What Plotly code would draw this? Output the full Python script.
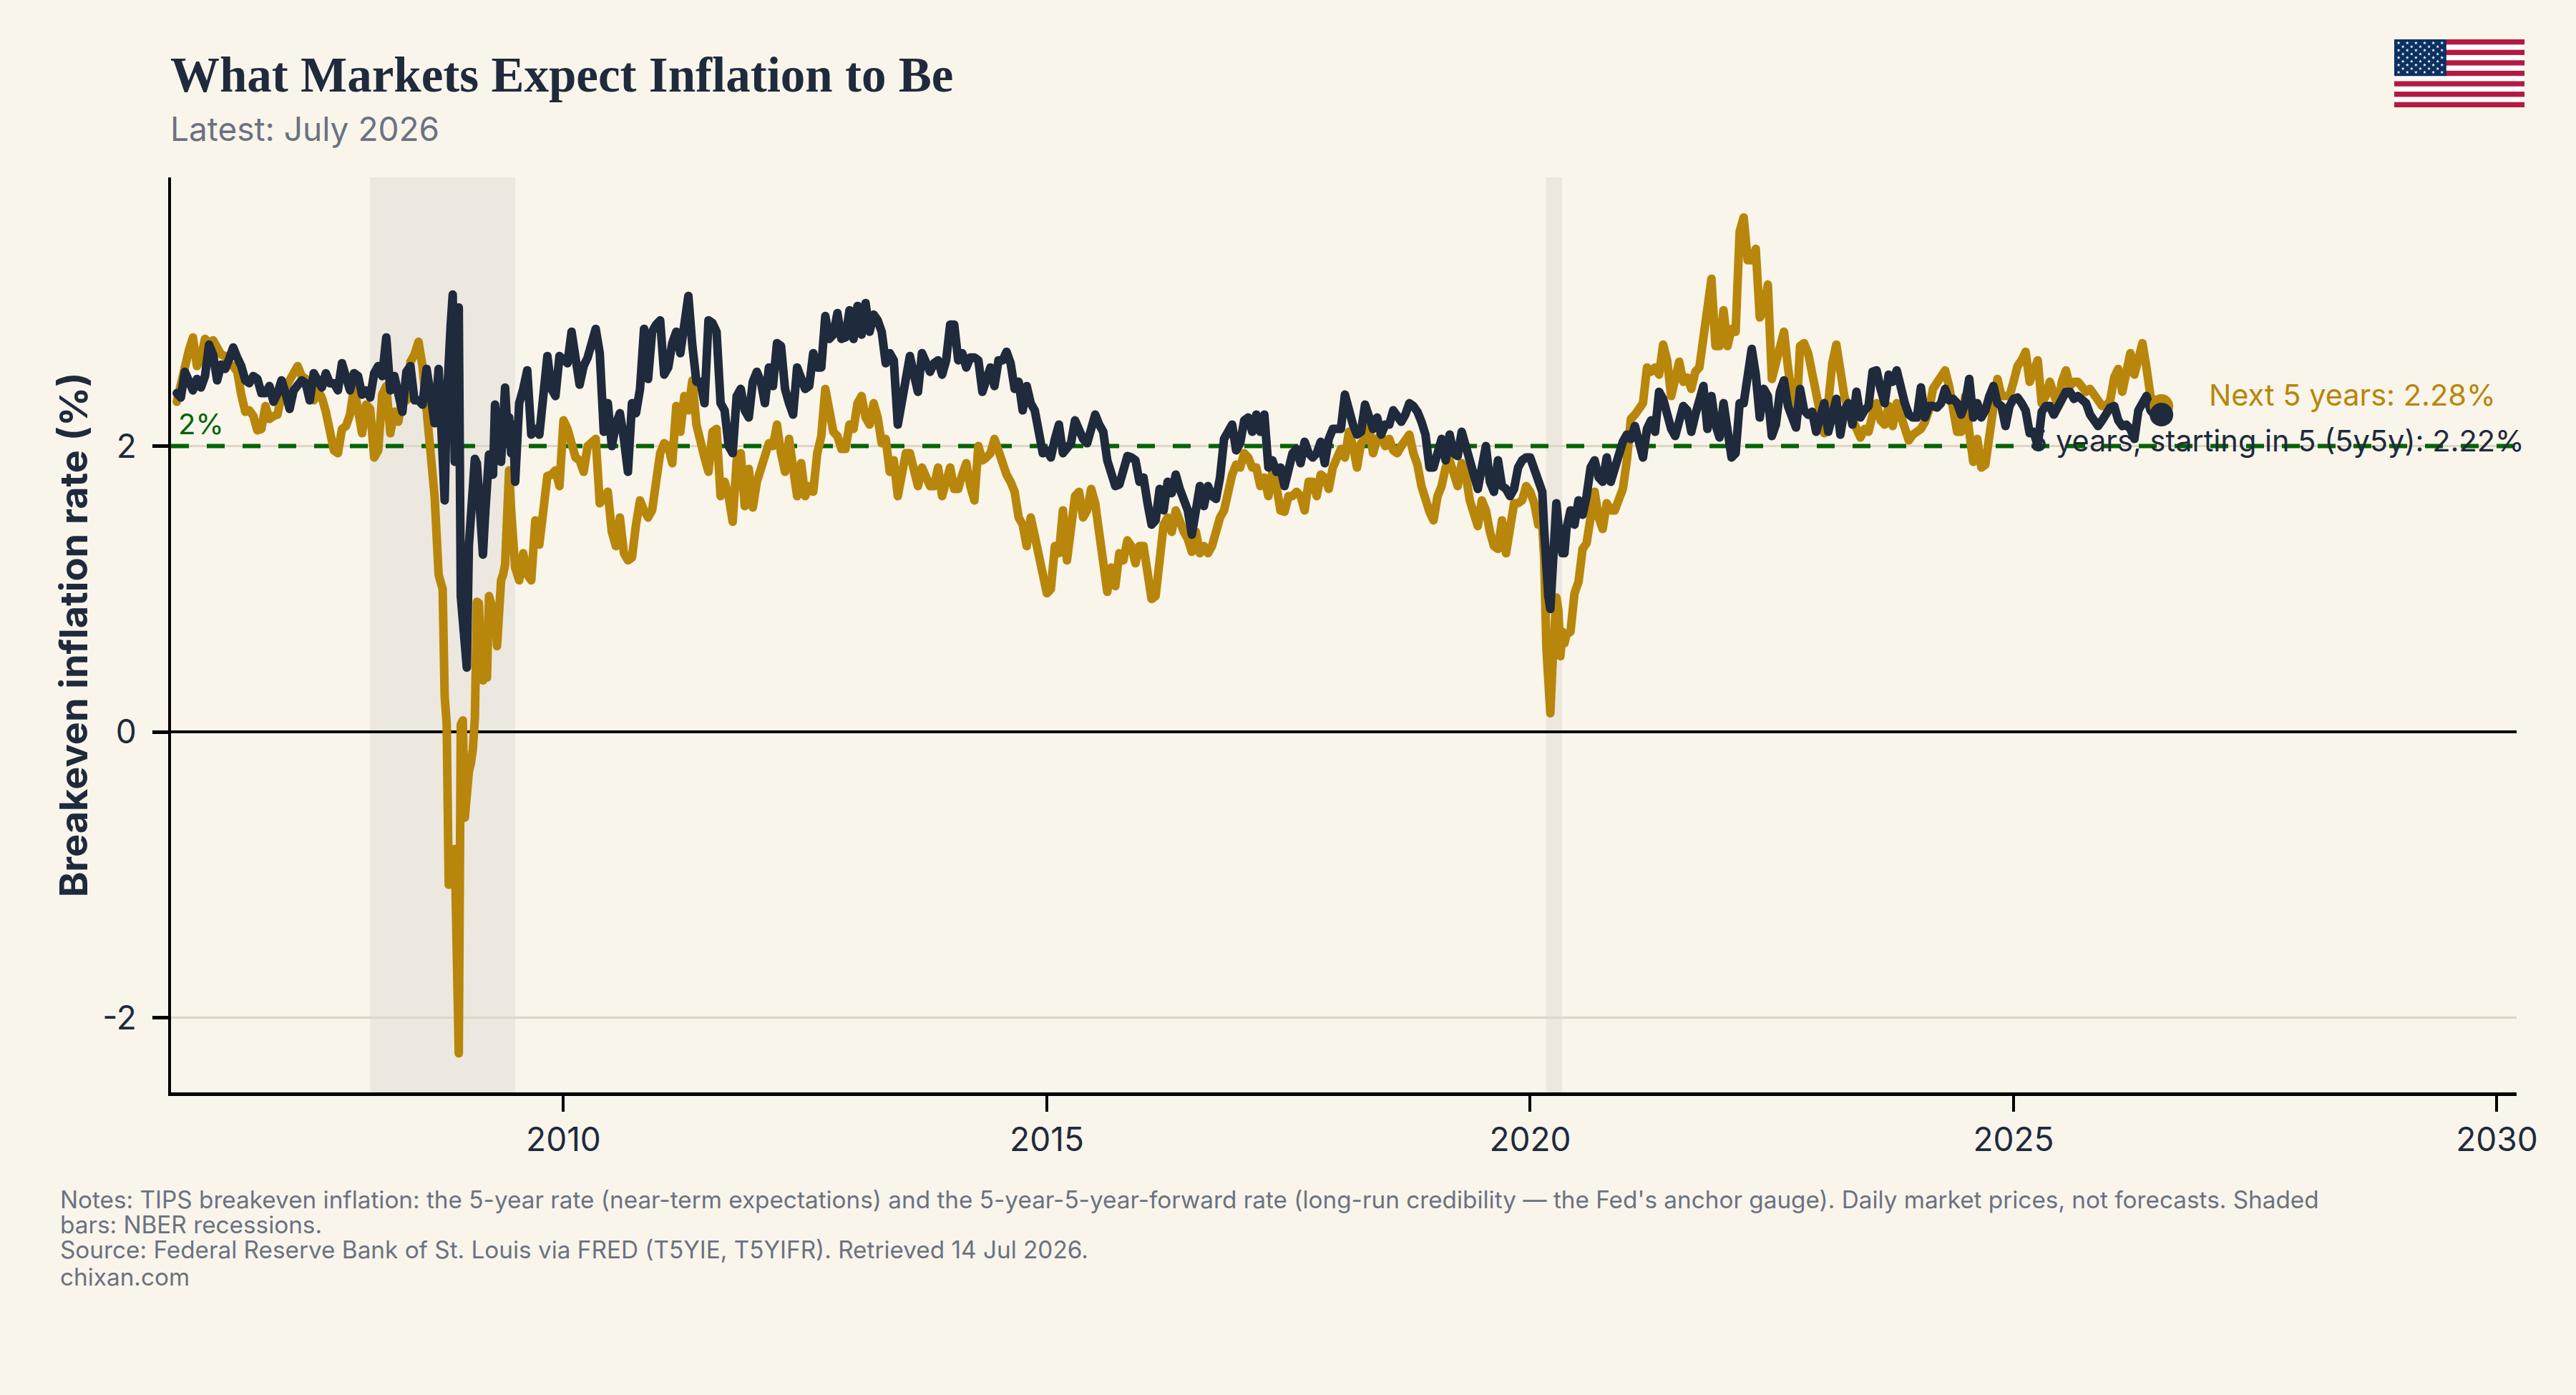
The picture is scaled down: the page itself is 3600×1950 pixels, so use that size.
import base64
import plotly.graph_objects as go

# Breakeven inflation, semi-monthly readings per year (percent).
# 5-year breakeven (T5YIE)
five_2006 = [2.31,2.44,2.59,2.67,2.76,2.56,2.62,2.75,2.72,2.74,2.69,2.64,2.63,2.57,2.56,2.52,2.36,2.24,2.25,2.21,2.11,2.12,2.28,2.19]
five_2007 = [2.21,2.22,2.36,2.41,2.46,2.54,2.56,2.49,2.47,2.34,2.32,2.39,2.34,2.24,2.07,1.97,1.95,2.12,2.14,2.22,2.41,2.27,2.09,2.29]
five_2008 = [2.26,1.92,1.97,2.36,2.42,2.09,2.24,2.17,2.36,2.32,2.59,2.64,2.73,2.56,2.26,2.01,1.65,1.10]
five_crisis = [1.00,0.25,0.06,-1.07,-1.05,-1.05,-0.82,-1.8,-2.25,0.05,0.08,-0.6,-0.35,-0.28,-0.22,-0.12,0.10,0.91,0.90,0.55,0.36,0.50,0.38,0.95,0.90,0.75,0.87,0.60,1.00,1.06,1.10,1.17,1.50,1.83,1.55,1.20]
five_2009 = [1.15,1.06,1.25,1.10,1.06,1.48,1.31,1.55,1.79,1.80,1.83,1.72]
five_2010 = [2.18,2.12,2.00,1.92,1.90,1.82,2.00,2.03,2.05,1.60,1.65,1.68,1.40,1.30,1.50,1.25,1.20,1.22,1.45,1.62,1.55,1.50,1.55,1.72]
five_2011 = [1.95,2.02,2.00,1.88,2.28,2.10,2.35,2.25,2.46,2.15,2.00,1.92,1.82,2.10,2.12,1.65,1.75,1.65,1.47,1.90,1.95,1.58,1.84,1.57]
five_2012 = [1.75,1.85,1.95,2.02,2.00,2.15,1.95,1.82,2.05,1.85,1.65,1.88,1.65,1.72,1.68,1.95,2.07,2.40,2.28,2.10,2.07,1.98,1.98,2.15]
five_2013 = [2.12,2.30,2.35,2.20,2.15,2.30,2.20,2.02,2.05,1.82,1.90,1.65,1.80,1.95,1.95,1.85,1.72,1.85,1.78,1.72,1.72,1.85,1.65,1.75]
five_2014 = [1.85,1.70,1.70,1.80,1.88,1.72,1.62,2.00,1.90,1.92,1.95,2.05,1.95,1.90,1.80,1.75,1.68,1.50,1.45,1.30,1.50,1.37,1.25,1.10]
five_2015 = [0.97,1.00,1.30,1.25,1.55,1.20,1.50,1.65,1.68,1.50,1.55,1.70,1.60,1.42,1.15,0.98,1.15,1.02,1.25,1.20,1.34,1.30,1.18,1.30]
five_2016 = [1.30,1.10,0.93,0.95,1.25,1.45,1.50,1.40,1.55,1.45,1.40,1.35,1.26,1.40,1.25,1.30,1.25,1.30,1.42,1.50,1.55,1.70,1.80,1.87]
five_2017 = [1.85,1.95,1.92,1.85,1.85,1.72,1.78,1.65,1.82,1.72,1.55,1.54,1.65,1.65,1.68,1.65,1.55,1.75,1.75,1.65,1.80,1.78,1.70,1.85]
five_2018 = [1.90,1.98,1.92,2.10,2.00,1.85,2.02,2.05,2.13,1.95,2.05,2.08,2.00,2.05,1.97,1.95,2.00,2.03,2.08,1.95,1.87,1.72,1.62,1.54]
five_2019 = [1.48,1.65,1.72,1.85,1.90,1.80,1.72,1.88,1.80,1.62,1.50,1.44,1.62,1.55,1.40,1.30,1.28,1.48,1.25,1.45,1.60,1.60,1.62,1.72]
five_2020_start = [1.68,1.60,1.45]
five_covid = [1.45,1.20,0.60,0.30,0.13,0.45,0.62,0.94,0.85,0.53,0.70,0.62]
five_2020_end = [0.68,0.70,0.97,1.05,1.28,1.32,1.50,1.68,1.50,1.42,1.60,1.55,1.55,1.65,1.70]
five_2021 = [1.90,2.19,2.22,2.26,2.30,2.55,2.52,2.55,2.50,2.71,2.60,2.35,2.45,2.59,2.45,2.48,2.40,2.52,2.55,2.80,3.00,3.17,2.70,2.70]
five_2022 = [2.95,2.70,2.82,2.80,3.50,3.60,3.30,3.30,3.38,2.90,2.95,3.13,2.47,2.60,2.73,2.80,2.55,2.30,2.15,2.70,2.72,2.65,2.50,2.35]
five_2023 = [2.25,2.09,2.30,2.58,2.71,2.50,2.35,2.25,2.18,2.10,2.06,2.12,2.10,2.22,2.30,2.18,2.15,2.28,2.14,2.30,2.20,2.15,2.04,2.08]
five_2024 = [2.10,2.12,2.17,2.25,2.40,2.45,2.50,2.53,2.42,2.25,2.10,2.10,2.35,2.10,1.89,2.05,1.85,1.87,2.10,2.25,2.47,2.35,2.35,2.35]
five_2025 = [2.45,2.56,2.60,2.66,2.45,2.55,2.60,2.30,2.35,2.45,2.35,2.28,2.45,2.53,2.42,2.45,2.45,2.40,2.38,2.40,2.35,2.30,2.28,2.28]
five_2026 = [2.32,2.48,2.54,2.38,2.55,2.65,2.50,2.60,2.72,2.55,2.35,2.30,2.30,2.28]

# 5-year, 5-year-forward rate (T5YIFR)
fwd_2006 = [2.37,2.34,2.52,2.44,2.39,2.47,2.41,2.49,2.71,2.64,2.46,2.57,2.54,2.61,2.69,2.62,2.56,2.46,2.44,2.49,2.47,2.37,2.37,2.42]
fwd_2007 = [2.31,2.37,2.46,2.37,2.26,2.39,2.44,2.46,2.44,2.32,2.51,2.44,2.41,2.51,2.44,2.44,2.39,2.58,2.46,2.39,2.51,2.49,2.36,2.39]
fwd_2008 = [2.34,2.51,2.56,2.49,2.76,2.39,2.49,2.36,2.24,2.52,2.56,2.32,2.32,2.29,2.54,2.36,2.16,2.54]
fwd_crisis = [1.85,1.62,2.30,2.76,2.85,3.06,1.89,2.50,2.97,0.95,0.75,0.46,0.45,1.30,1.50,1.90,1.91,1.88,1.60,1.28,1.24,1.50,1.85,1.94,1.80,1.80,2.29,1.95,1.90,1.89,2.25,2.41,2.15,2.20,1.95,2.15]
fwd_2009 = [1.75,2.30,2.40,2.53,2.08,2.12,2.08,2.45,2.63,2.40,2.35,2.63]
fwd_2010 = [2.60,2.58,2.80,2.55,2.43,2.56,2.62,2.72,2.82,2.65,2.10,2.30,2.00,2.15,2.23,2.05,1.82,2.30,2.23,2.40,2.82,2.47,2.80,2.85]
fwd_2011 = [2.88,2.50,2.55,2.72,2.80,2.65,2.85,3.05,2.70,2.45,2.45,2.30,2.88,2.86,2.80,2.30,2.25,2.00,1.95,2.35,2.40,2.25,2.20,2.45]
fwd_2012 = [2.52,2.45,2.30,2.55,2.42,2.72,2.70,2.40,2.30,2.22,2.55,2.45,2.40,2.42,2.65,2.55,2.55,2.91,2.75,2.78,2.93,2.75,2.76,2.95]
fwd_2013 = [2.75,2.98,2.78,3.00,2.80,2.92,2.88,2.80,2.58,2.65,2.60,2.15,2.30,2.50,2.63,2.50,2.38,2.65,2.60,2.52,2.58,2.60,2.50,2.60]
fwd_2014 = [2.85,2.85,2.60,2.65,2.55,2.62,2.62,2.60,2.38,2.45,2.55,2.42,2.60,2.60,2.66,2.58,2.40,2.45,2.25,2.42,2.30,2.25,2.12,1.95]
fwd_2015 = [1.97,1.92,2.05,2.15,1.95,1.98,2.02,2.18,2.10,2.05,2.02,2.15,2.22,2.15,2.10,1.90,1.80,1.72,1.73,1.85,1.93,1.92,1.90,1.75]
fwd_2016 = [1.78,1.60,1.45,1.48,1.70,1.55,1.75,1.67,1.80,1.70,1.60,1.55,1.38,1.55,1.72,1.58,1.72,1.65,1.63,1.78,2.05,2.10,2.15,1.97]
fwd_2017 = [2.02,2.18,2.20,2.10,2.22,2.10,2.22,1.85,1.90,1.82,1.85,1.72,1.82,1.95,1.98,1.88,2.03,1.95,1.92,1.95,2.03,1.88,2.05,2.12]
fwd_2018 = [2.12,2.12,2.36,2.22,2.15,2.08,2.10,2.29,2.20,2.12,2.20,2.08,2.15,2.15,2.25,2.22,2.17,2.22,2.30,2.28,2.24,2.17,2.08,1.85]
fwd_2019 = [1.85,1.95,2.05,1.90,2.08,1.95,1.93,2.10,2.00,1.85,1.75,1.70,1.85,2.00,1.75,1.68,1.90,1.72,1.70,1.65,1.70,1.85,1.90,1.92]
fwd_2020_start = [1.92,1.85,1.78]
fwd_covid = [1.68,1.40,1.10,0.95,0.86,1.10,1.30,1.60,1.45,1.30,1.25,1.25]
fwd_2020_end = [1.42,1.55,1.45,1.62,1.52,1.65,1.85,1.90,1.78,1.75,1.92,1.75,1.85,1.90,2.03]
fwd_2021 = [2.08,2.05,2.14,2.00,1.92,2.12,2.18,2.10,2.38,2.33,2.22,2.12,2.07,2.20,2.28,2.25,2.10,2.22,2.35,2.42,2.12,2.35,2.15,2.06]
fwd_2022 = [2.30,2.05,1.92,1.95,2.30,2.30,2.45,2.68,2.50,2.20,2.40,2.35,2.07,2.15,2.38,2.46,2.28,2.20,2.13,2.40,2.25,2.22,2.24,2.10]
fwd_2023 = [2.18,2.30,2.10,2.20,2.33,2.08,2.25,2.30,2.15,2.38,2.20,2.25,2.28,2.52,2.53,2.40,2.30,2.50,2.45,2.53,2.38,2.30,2.22,2.20]
fwd_2024 = [2.20,2.41,2.20,2.28,2.28,2.27,2.30,2.40,2.32,2.33,2.30,2.22,2.30,2.47,2.20,2.30,2.20,2.25,2.35,2.42,2.30,2.28,2.14,2.28]
fwd_2025 = [2.33,2.34,2.30,2.25,2.09,2.10,2.00,2.24,2.28,2.28,2.22,2.28,2.33,2.38,2.38,2.33,2.35,2.33,2.30,2.22,2.17,2.14,2.18,2.22]
fwd_2026 = [2.27,2.28,2.18,2.14,2.15,2.12,2.05,2.25,2.30,2.35,2.25,2.22,2.22,2.22]

SEMI = 1 / 24
FINE = 1 / 48
# (first date, spacing) for each stretch; the crises are kept at finer spacing.
SPANS = [(2006.0, SEMI), (2007.0, SEMI), (2008.0, SEMI), (2008.75, FINE), (2009.5, SEMI)]
SPANS += [(float(y), SEMI) for y in range(2010, 2020)]
SPANS += [(2020.0, SEMI), (2020.125, FINE), (2020.375, SEMI)]
SPANS += [(float(y), SEMI) for y in range(2021, 2027)]

FIVE_PARTS = [five_2006, five_2007, five_2008, five_crisis, five_2009, five_2010, five_2011, five_2012,
              five_2013, five_2014, five_2015, five_2016, five_2017, five_2018, five_2019,
              five_2020_start, five_covid, five_2020_end, five_2021, five_2022, five_2023, five_2024,
              five_2025, five_2026]
FWD_PARTS = [fwd_2006, fwd_2007, fwd_2008, fwd_crisis, fwd_2009, fwd_2010, fwd_2011, fwd_2012,
             fwd_2013, fwd_2014, fwd_2015, fwd_2016, fwd_2017, fwd_2018, fwd_2019,
             fwd_2020_start, fwd_covid, fwd_2020_end, fwd_2021, fwd_2022, fwd_2023, fwd_2024,
             fwd_2025, fwd_2026]


def stitch(parts):
    xs, ys = [], []
    for (start, step), values in zip(SPANS, parts):
        xs += [start + i * step for i in range(len(values))]
        ys += values
    # the last reading is dated mid-July
    xs[-1] = LATEST_DATE
    return xs, ys


LATEST_DATE = 2026.53
LATEST_FIVE = 2.28
LATEST_FWD = 2.22
TARGET = 2.0
RECESSIONS = [(2008.0, 2009.5), (2020.165, 2020.33)]
YEAR_TICKS = [2010, 2015, 2020, 2025, 2030]
VALUE_TICKS = [-2, 0, 2]
X_RANGE = [2005.94, 2030.204]
Y_RANGE = [-2.523, 3.88]

NOTE_LINES = [
    "Notes: TIPS breakeven inflation: the 5-year rate (near-term expectations) and the 5-year-5-year-forward rate (long-run credibility — the Fed's anchor gauge). Daily market prices, not forecasts. Shaded",
    "bars: NBER recessions.",
    "Source: Federal Reserve Bank of St. Louis via FRED (T5YIE, T5YIFR). Retrieved 14 Jul 2026.",
    "chixan.com",
]

BG = "#f9f5eb"
INK = "#1f2a3c"
GOLD = "#b8860b"
GREEN = "#006400"
MUTED = "#6b7280"
GRID = "#ddd6c6"
SANS = "Inter"

WIDTH, HEIGHT = 3600, 1950
LEFT, RIGHT, TOP, BOTTOM = 239, 3517, 248, 1527


def fx(px):
    return (px - LEFT) / (RIGHT - LEFT)


def fy(py):
    return (BOTTOM - py) / (BOTTOM - TOP)


def flag_svg():
    w, h = 1900, 1000
    stripe = h / 13
    parts = [f'<svg xmlns="http://www.w3.org/2000/svg" width="{w}" height="{h}" viewBox="0 0 {w} {h}" preserveAspectRatio="none">',
             f'<rect width="{w}" height="{h}" fill="#ffffff"/>']
    for i in range(0, 13, 2):
        parts.append(f'<rect y="{i * stripe:.2f}" width="{w}" height="{stripe:.2f}" fill="#b31942"/>')
    cw, ch = 0.4 * w, 7 * stripe
    parts.append(f'<rect width="{cw:.2f}" height="{ch:.2f}" fill="#0a3161"/>')
    dx, dy = cw / 12, ch / 10
    star = "M0,-27 L6.3,-8.3 L25.7,-8.3 L10,3.2 L15.9,21.8 L0,10.3 L-15.9,21.8 L-10,3.2 L-25.7,-8.3 L-6.3,-8.3 Z"
    for row in range(9):
        cols = range(1, 12, 2) if row % 2 == 0 else range(2, 11, 2)
        for col in cols:
            parts.append(f'<path transform="translate({col * dx:.1f},{(row + 1) * dy:.1f})" d="{star}" fill="#ffffff"/>')
    parts.append("</svg>")
    return "data:image/svg+xml;base64," + base64.b64encode("".join(parts).encode()).decode()


five_x, five_y = stitch(FIVE_PARTS)
fwd_x, fwd_y = stitch(FWD_PARTS)

fig = go.Figure()
fig.add_trace(go.Scatter(x=X_RANGE, y=[TARGET, TARGET], mode="lines", hoverinfo="skip",
                         line=dict(color=GREEN, width=6, dash="25px,25px")))
fig.add_trace(go.Scatter(x=five_x, y=five_y, mode="lines", name="Next 5 years",
                         line=dict(color=GOLD, width=12)))
fig.add_trace(go.Scatter(x=fwd_x, y=fwd_y, mode="lines", name="5 years, starting in 5",
                         line=dict(color=INK, width=12)))
fig.add_trace(go.Scatter(x=[LATEST_DATE], y=[LATEST_FIVE], mode="markers",
                         marker=dict(color=GOLD, size=33)))
fig.add_trace(go.Scatter(x=[LATEST_DATE], y=[LATEST_FWD], mode="markers",
                         marker=dict(color=INK, size=33)))

for start, end in RECESSIONS:
    fig.add_shape(type="rect", xref="x", yref="paper", x0=start, x1=end, y0=0, y1=1,
                  fillcolor="rgba(110,100,120,0.085)", line_width=0, layer="below")

annotations = [
    dict(text="<b>What Markets Expect Inflation to Be</b>", x=fx(238), y=fy(105), xanchor="left", yanchor="middle",
         font=dict(family="Liberation Serif", size=69, color=INK)),
    dict(text="Latest: July 2026", x=fx(238), y=fy(180), xanchor="left", yanchor="middle",
         font=dict(family=SANS, size=46, color=MUTED)),
    dict(text="Next 5 years: 2.28%", x=fx(3488), y=fy(552), xanchor="right", yanchor="middle",
         font=dict(family=SANS, size=41.5, color=GOLD)),
    dict(text="5 years, starting in 5 (5y5y): 2.22%", x=fx(3528), y=fy(616), xanchor="right", yanchor="middle",
         font=dict(family=SANS, size=41.5, color=INK)),
    dict(text="2%", x=fx(249), y=fy(592), xanchor="left", yanchor="middle",
         font=dict(family=SANS, size=40, color=GREEN)),
]
for text, py in zip(NOTE_LINES, [1677, 1712, 1747, 1785]):
    annotations.append(dict(text=text, x=fx(84), y=fy(py), xanchor="left", yanchor="middle",
                            font=dict(family=SANS, size=33.3, color=MUTED)))
for a in annotations:
    a.update(xref="paper", yref="paper", showarrow=False, borderpad=0, borderwidth=0)

fig.update_layout(
    width=WIDTH, height=HEIGHT, autosize=False, showlegend=False,
    paper_bgcolor=BG, plot_bgcolor=BG,
    margin=dict(l=LEFT, r=WIDTH - RIGHT, t=TOP, b=HEIGHT - BOTTOM, pad=0),
    annotations=annotations,
    images=[dict(source=flag_svg(), xref="paper", yref="paper", x=fx(3346), y=fy(55),
                 sizex=182 / (RIGHT - LEFT), sizey=95 / (BOTTOM - TOP),
                 sizing="stretch", xanchor="left", yanchor="top", layer="above")],
)
fig.update_xaxes(range=X_RANGE, tickmode="array", tickvals=YEAR_TICKS, ticktext=[str(y) for y in YEAR_TICKS],
                 showgrid=False, zeroline=False, showline=True, linecolor="#000000", linewidth=5,
                 ticks="outside", ticklen=22, tickwidth=4, tickcolor="#000000",
                 ticklabelstandoff=0, tickfont=dict(family=SANS, size=46, color=INK))
fig.update_yaxes(range=Y_RANGE, tickmode="array", tickvals=VALUE_TICKS, ticktext=[str(v) for v in VALUE_TICKS],
                 showgrid=True, gridcolor=GRID, gridwidth=3,
                 zeroline=True, zerolinecolor="#000000", zerolinewidth=4,
                 showline=True, linecolor="#000000", linewidth=4,
                 ticks="outside", ticklen=22, tickwidth=5, tickcolor="#000000",
                 ticklabelstandoff=13, tickfont=dict(family=SANS, size=46, color=INK),
                 title=dict(text="<b>Breakeven inflation rate (%)</b>", standoff=4,
                            font=dict(family=SANS, size=54, color=INK)))

# The series strokes use rounded joins and caps; the dashed target keeps square ends.
ROUND_STROKES = """
document.querySelectorAll('.scatterlayer .js-line').forEach(function (p) {
  if (!p.style.strokeDasharray || p.style.strokeDasharray === 'none') {
    p.style.strokeLinejoin = 'round';
    p.style.strokeLinecap = 'round';
  }
});
"""
fig.write_html("out.html", post_script=ROUND_STROKES, config=dict(displayModeBar=False))
